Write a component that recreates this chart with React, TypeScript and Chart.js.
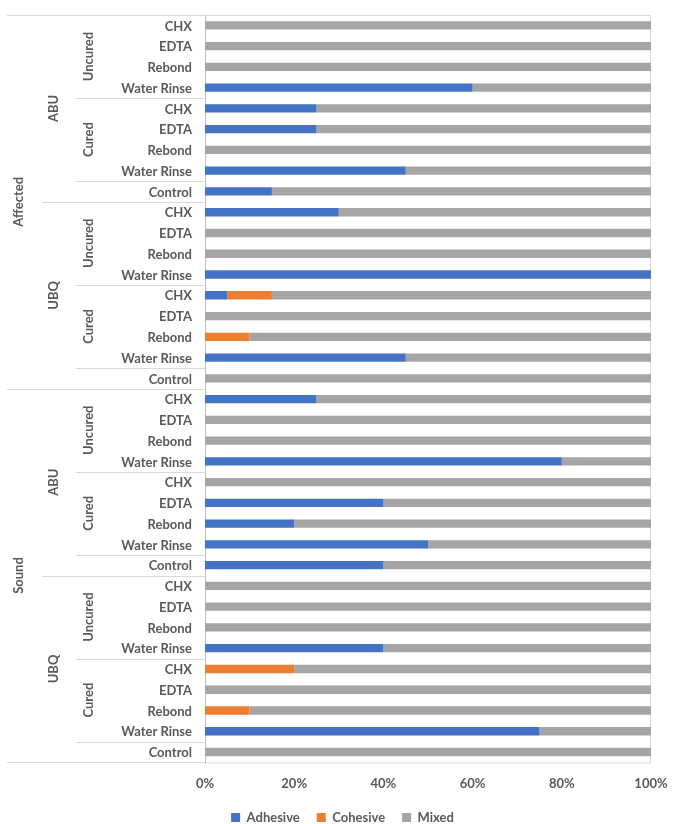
import React, { useEffect, useRef } from "react";
import { Chart, registerables } from "chart.js";

Chart.register(...registerables);

// Innermost category labels (top to bottom)
const rowLabels = [
  "CHX", "EDTA", "Rebond", "Water Rinse", "CHX", "EDTA", "Rebond", "Water Rinse", "Control",
  "CHX", "EDTA", "Rebond", "Water Rinse", "CHX", "EDTA", "Rebond", "Water Rinse", "Control",
  "CHX", "EDTA", "Rebond", "Water Rinse", "CHX", "EDTA", "Rebond", "Water Rinse", "Control",
  "CHX", "EDTA", "Rebond", "Water Rinse", "CHX", "EDTA", "Rebond", "Water Rinse", "Control",
];

// Group labels: [label, firstRow, rowCount]
const level1Groups: [string, number, number][] = [
  ["Affected", 0, 18],
  ["Sound", 18, 18],
];
const level2Groups: [string, number, number][] = [
  ["ABU", 0, 9],
  ["UBQ", 9, 9],
  ["ABU", 18, 9],
  ["UBQ", 27, 9],
];
const level3Groups: [string, number, number][] = [
  ["Uncured", 0, 4], ["Cured", 4, 4],
  ["Uncured", 9, 4], ["Cured", 13, 4],
  ["Uncured", 18, 4], ["Cured", 22, 4],
  ["Uncured", 27, 4], ["Cured", 31, 4],
];

const adhesive = [
  0, 0, 0, 60, 25, 25, 0, 45, 15,
  30, 0, 0, 100, 5, 0, 0, 45, 0,
  25, 0, 0, 80, 0, 40, 20, 50, 40,
  0, 0, 0, 40, 0, 0, 0, 75, 0,
];
const cohesive = [
  0, 0, 0, 0, 0, 0, 0, 0, 0,
  0, 0, 0, 0, 10, 0, 10, 0, 0,
  0, 0, 0, 0, 0, 0, 0, 0, 0,
  0, 0, 0, 0, 20, 0, 10, 0, 0,
];
const mixed = [
  100, 100, 100, 40, 75, 75, 100, 55, 85,
  70, 100, 100, 0, 85, 100, 90, 55, 100,
  75, 100, 100, 20, 100, 60, 80, 50, 60,
  100, 100, 100, 60, 80, 100, 90, 25, 100,
];

const xTicks = [0, 20, 40, 60, 80, 100];

const FONT = "Lato";
const TEXT = "#595959";
const LINE = "#d9d9d9";

const hierPlugin = {
  id: "hier",
  beforeDatasetsDraw(chart: any) {
    const { ctx, chartArea } = chart;
    ctx.save();
    ctx.strokeStyle = LINE;
    ctx.lineWidth = 1;
    ctx.strokeRect(chartArea.left + 0.5, chartArea.top + 0.5, chartArea.right - chartArea.left - 1, chartArea.bottom - chartArea.top);
    ctx.strokeStyle = "#bfbfbf";
    ctx.beginPath();
    ctx.moveTo(chartArea.left + 0.5, chartArea.top);
    ctx.lineTo(chartArea.left + 0.5, chartArea.bottom + 1);
    ctx.stroke();
    ctx.restore();
  },
  afterDraw(chart: any) {
    const { ctx, chartArea } = chart;
    const y = chart.scales.y;
    const n = rowLabels.length;
    const rowH = (chartArea.bottom - chartArea.top) / n;
    const edge = (i: number) => chartArea.top + i * rowH;
    ctx.save();
    // separator lines
    const starts: Record<number, number> = {};
    level3Groups.forEach(([, s, c]) => {
      starts[s] = Math.min(starts[s] ?? 999, 76);
      starts[s + c] = Math.min(starts[s + c] ?? 999, 76);
    });
    level2Groups.forEach(([, s, c]) => {
      starts[s] = Math.min(starts[s] ?? 999, 42);
      starts[s + c] = Math.min(starts[s + c] ?? 999, 42);
    });
    level1Groups.forEach(([, s, c]) => {
      starts[s] = 7;
      starts[s + c] = 7;
    });
    ctx.strokeStyle = LINE;
    ctx.lineWidth = 1;
    Object.keys(starts).forEach((k) => {
      const i = Number(k);
      const yy = Math.round(edge(i)) + 0.5;
      ctx.beginPath();
      ctx.moveTo(starts[i], yy);
      ctx.lineTo(chartArea.left, yy);
      ctx.stroke();
    });
    // row labels
    ctx.fillStyle = TEXT;
    ctx.font = `bold 13px ${FONT}`;
    ctx.textAlign = "right";
    ctx.textBaseline = "middle";
    rowLabels.forEach((lab, i) => {
      ctx.fillText(lab, chartArea.left - 13, y.getPixelForValue(i) + 1);
    });
    const drawRot = (groups: [string, number, number][], x: number) => {
      groups.forEach(([lab, s, c]) => {
        const cy = (edge(s) + edge(s + c)) / 2;
        ctx.save();
        ctx.translate(x, cy);
        ctx.rotate(-Math.PI / 2);
        ctx.textAlign = "center";
        ctx.textBaseline = "middle";
        ctx.fillText(lab, 0, 0);
        ctx.restore();
      });
    };
    drawRot(level1Groups, 19);
    drawRot(level2Groups, 54);
    drawRot(level3Groups, 89);
    ctx.restore();
  },
};

export default function App() {
  const ref = useRef<HTMLCanvasElement>(null);
  useEffect(() => {
    if (!ref.current) return;
    const chart = new Chart(ref.current, {
      type: "bar",
      data: {
        labels: rowLabels,
        datasets: [
          { label: "Adhesive", data: adhesive, backgroundColor: "#4472C4" },
          { label: "Cohesive", data: cohesive, backgroundColor: "#ED7D31" },
          { label: "Mixed", data: mixed, backgroundColor: "#A5A5A5" },
        ],
      },
      options: {
        indexAxis: "y",
        responsive: false,
        animation: false,
        devicePixelRatio: 1,
        layout: { padding: { top: 15, bottom: -10, left: 0, right: 0 } },
        datasets: { bar: { barPercentage: 0.4, categoryPercentage: 1 } } as any,
        scales: {
          x: {
            stacked: true,
            min: 0,
            max: 100,
            afterBuildTicks: (axis: any) => {
              axis.ticks = xTicks.map((v) => ({ value: v }));
            },
            afterFit: (axis: any) => {
              axis.height = axis.height - 12;
            },
            grid: { display: false, drawTicks: false },
            border: { display: false },
            ticks: {
              padding: 14,
              color: TEXT,
              font: { family: FONT, size: 13, weight: "bold" },
              callback: (v: any) => v + "%",
            },
          },
          y: {
            stacked: true,
            grid: { display: false, drawTicks: false },
            border: { display: false },
            ticks: { display: false },
            afterFit: (axis: any) => {
              axis.width = 205;
            },
          },
          yR: {
            type: "category",
            position: "right",
            grid: { display: false, drawTicks: false },
            border: { display: false },
            ticks: { display: false },
            afterFit: (axis: any) => {
              axis.width = 34;
            },
          },
        } as any,
        plugins: {
          legend: {
            position: "bottom",
            labels: {
              boxWidth: 9,
              boxHeight: 9,
              padding: 17,
              color: TEXT,
              font: { family: FONT, size: 13, weight: "bold" },
            },
          },
          tooltip: { enabled: false },
        },
      },
      plugins: [hierPlugin],
    });
    return () => chart.destroy();
  }, []);
  return (
    <div style={{ position: "absolute", left: 0, top: 0, width: 685, height: 824, background: "#fff" }}>
      <canvas ref={ref} width={685} height={824} />
    </div>
  );
}
